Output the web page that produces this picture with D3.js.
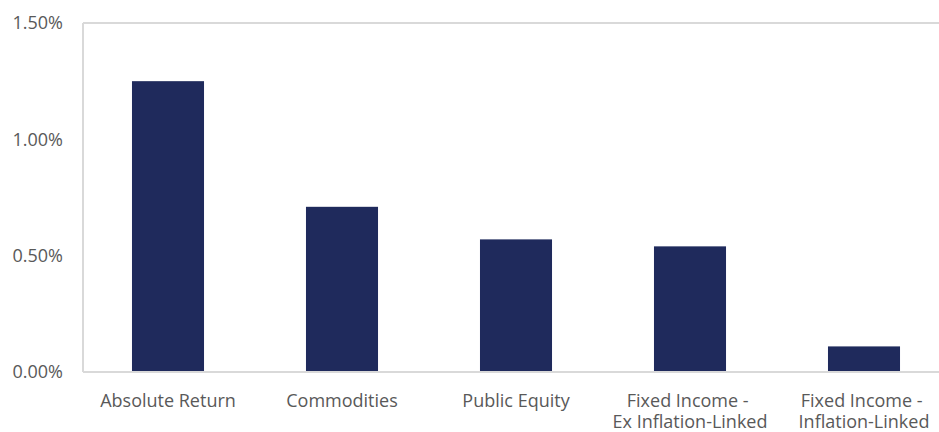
<!DOCTYPE html>
<html lang="en">
<head>
    <meta charset="utf-8">
    <script src="https://d3js.org/d3.v7.min.js"></script>
    <style>
        body { margin: 0; padding: 0; background: #fff; }
        text { font-family: "Open Sans", sans-serif; fill: #595959; }
    </style>
</head>
<body>
    <svg id="chart" width="939" height="432"></svg>
    <script>
        // data
        var categories = ["Absolute Return", "Commodities", "Public Equity",
            "Fixed Income - |Ex Inflation-Linked", "Fixed Income - |Inflation-Linked"];
        var values = [1.25, 0.71, 0.57, 0.54, 0.11];
        var yTicks = [0, 0.5, 1.0, 1.5];

        var svg = d3.select("#chart");
        var plotLeft = 83, plotTop = 23, plotBottom = 372;

        // category bands (slightly offset from the frame, like the source chart)
        var x = d3.scaleBand()
            .domain(categories)
            .range([81, 951])
            .paddingInner(0.586)
            .paddingOuter(0.293);

        var y = d3.scaleLinear()
            .domain([0, 1.5])
            .range([plotBottom, plotTop]);

        // frame lines
        var grid = "#d9d9d9";
        svg.append("line").attr("x1", plotLeft).attr("x2", 939).attr("y1", plotTop).attr("y2", plotTop)
            .attr("stroke", grid).attr("stroke-width", 2);
        svg.append("line").attr("x1", plotLeft).attr("x2", plotLeft).attr("y1", plotTop).attr("y2", plotBottom)
            .attr("stroke", grid).attr("stroke-width", 2);

        // bars
        svg.append("g")
            .selectAll("rect")
            .data(values)
            .enter()
            .append("rect")
            .attr("x", function (d, i) { return x(categories[i]); })
            .attr("width", x.bandwidth())
            .attr("y", function (d) { return y(d); })
            .attr("height", function (d) { return plotBottom - y(d); })
            .attr("fill", "#1f2a5c");

        svg.append("line").attr("x1", plotLeft).attr("x2", 939).attr("y1", plotBottom).attr("y2", plotBottom)
            .attr("stroke", grid).attr("stroke-width", 2);

        // y axis
        var yAxis = d3.axisLeft(y)
            .tickValues(yTicks)
            .tickSize(0)
            .tickPadding(20)
            .tickFormat(function (d) { return d.toFixed(2) + "%"; });
        var gy = svg.append("g").attr("transform", "translate(" + plotLeft + ",0)").call(yAxis);
        gy.select(".domain").remove();
        gy.selectAll("text").style("font-size", "18px").style("font-family", "Open Sans").attr("fill", "#595959");

        // x axis
        var xAxis = d3.axisBottom(x).tickSize(0).tickFormat("");
        var gx = svg.append("g").attr("transform", "translate(0," + plotBottom + ")").call(xAxis);
        gx.select(".domain").remove();
        gx.selectAll(".tick")
            .append("text")
            .attr("text-anchor", "middle")
            .style("font-size", "18px")
            .attr("fill", "#595959")
            .selectAll("tspan")
            .data(function (d) { return d.split("|"); })
            .enter()
            .append("tspan")
            .attr("x", 0)
            .attr("y", function (d, i) { return 35 + i * 21; })
            .text(function (d) { return d; });
    </script>
</body>
</html>
